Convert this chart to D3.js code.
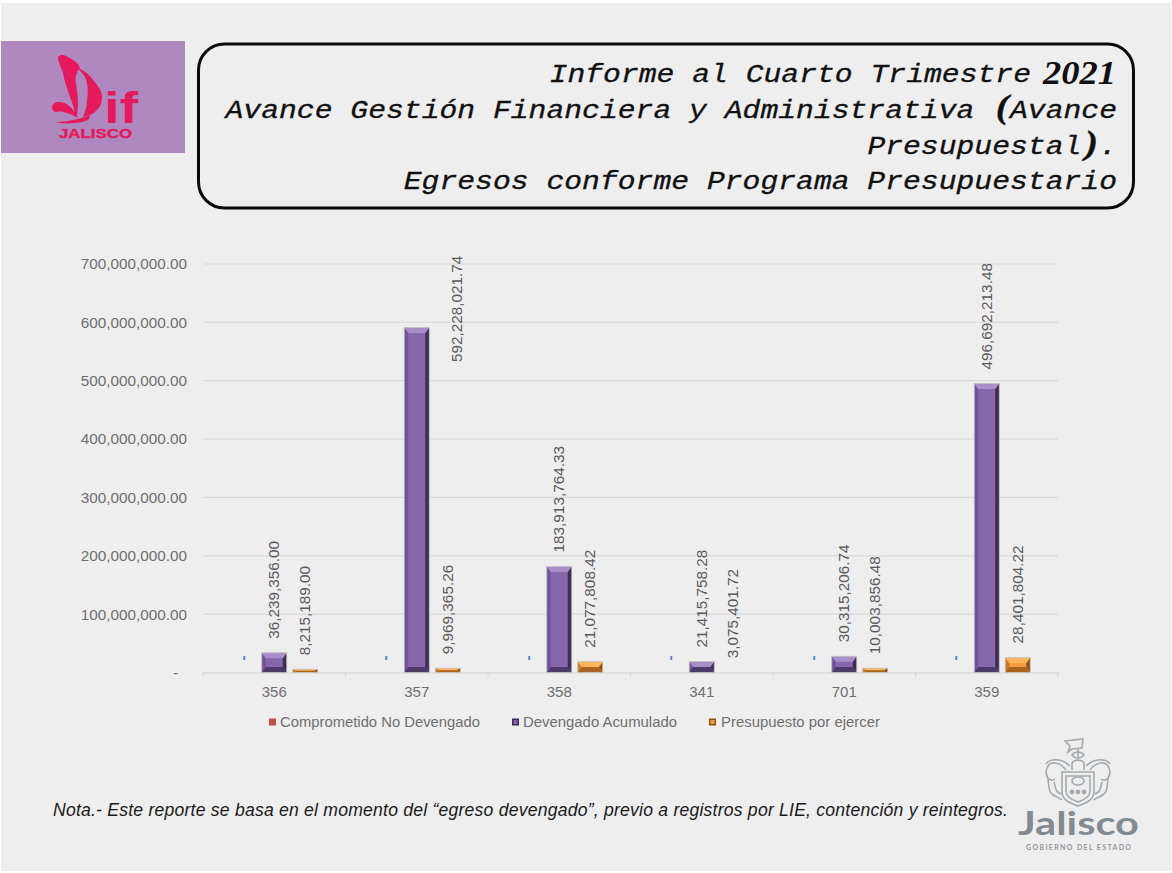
<!DOCTYPE html>
<html>
<head>
<meta charset="utf-8">
<script src="https://cdn.jsdelivr.net/npm/d3@7"></script>
<style>
  html, body { margin: 0; padding: 0; background: #fff; }
  svg { display: block; }
  text { font-family: "Liberation Sans", Arial, sans-serif; }
</style>
</head>
<body>
<div id="chart"></div>
<script>
const categories = ['356', '357', '358', '341', '701', '359'];
const seriesNames = ['Comprometido No Devengado', 'Devengado Acumulado', 'Presupuesto por ejercer'];
const comprometido = [0, 0, 0, 0, 0, 0];
const devengado = [36239356.00, 592228021.74, 183913764.33, 21415758.28, 30315206.74, 496692213.48];
const presupuesto = [8215189.00, 9969365.26, 21077808.42, 3075401.72, 10003856.48, 28401804.22];
const yTicks = [0, 100000000, 200000000, 300000000, 400000000, 500000000, 600000000, 700000000];
const titleLines = [
  'Informe al Cuarto Trimestre',
  'Avance Gestión Financiera y Administrativa (Avance',
  'Presupuestal).',
  'Egresos conforme Programa Presupuestario'
];
const titleYear = '2021';
const footNote = 'Nota.- Este reporte se basa en el momento del “egreso devengado”, previo a registros por LIE, contención y reintegros.';

const W = 1172, H = 873;
const BG = '#eeeeee';
const colors = {
  [seriesNames[0]]: { main: '#c0504d', top: '#d9827f', left: '#a33f3c', right: '#7a2f2d', bottom: '#8a3633' },
  [seriesNames[1]]: { main: '#8666ac', top: '#a88fc9', left: '#6f5594', right: '#3c2d55', bottom: '#4d3a6c' },
  [seriesNames[2]]: { main: '#f79a3e', top: '#fdb55e', left: '#c8762c', right: '#8c5217', bottom: '#a9641f' }
};

const svg = d3.select('#chart').append('svg').attr('width', W).attr('height', H);
svg.append('rect').attr('x', 1).attr('y', 3).attr('width', W - 2).attr('height', H - 5).attr('fill', BG);

drawHeader();
drawChart();
drawFooter();

function drawChart() {
  const x0 = d3.scaleBand().domain(categories).range([203, 1058]);
  const x1 = d3.scaleBand().domain(seriesNames).range([27.75, 114.75]).paddingInner(6 / 31);
  const y = d3.scaleLinear().domain([0, 700000000]).range([672.5, 264]);
  // the bars sit a little into the axis, so the smallest one barely shows
  const yBar = y.copy().range([674, 264.5]);
  const labelColor = '#6e6e6e';

  // gridlines
  svg.append('g').selectAll('line')
    .data(yTicks.slice(1))
    .join('line')
    .attr('x1', 203).attr('x2', 1058)
    .attr('y1', d => y(d)).attr('y2', d => y(d))
    .attr('stroke', '#d9d9d9').attr('stroke-width', 1.2);

  const yAxis = svg.append('g')
    .attr('transform', 'translate(187,0)')
    .call(d3.axisLeft(y).tickValues(yTicks).tickSize(0).tickPadding(0)
      .tickFormat(d => d === 0 ? '-' : d3.format(',.2f')(d)));
  yAxis.select('.domain').remove();
  yAxis.selectAll('text')
    .attr('font-size', 15.3).attr('fill', labelColor)
    .style('font-family', '"Liberation Sans", sans-serif')
    .attr('dx', d => d === 0 ? -9 : 0);

  const xAxis = svg.append('g')
    .attr('transform', `translate(0,${y(0)})`)
    .call(d3.axisBottom(x0).tickSize(0).tickPadding(14));
  xAxis.select('.domain').attr('stroke', '#d0d0d0').attr('stroke-width', 1.2);
  xAxis.selectAll('text')
    .attr('font-size', 15).attr('fill', labelColor)
    .style('font-family', '"Liberation Sans", sans-serif');

  // separators between categories on the axis
  svg.append('g').selectAll('line')
    .data(categories.map(c => x0(c)).concat([1058]))
    .join('line')
    .attr('x1', d => d).attr('x2', d => d)
    .attr('y1', y(0)).attr('y2', y(0) + 4)
    .attr('stroke', '#d0d0d0');

  const rows = [comprometido, devengado, presupuesto];
  seriesNames.forEach((name, si) => {
    const c = colors[name];
    const g = svg.append('g');
    categories.forEach((cat, i) => {
      const v = rows[si][i];
      const left = x0(cat) + x1(name), bw = x1.bandwidth();
      const cx = left + bw / 2;
      const top = yBar(v), h = y(0) - top;

      if (h > 1) drawBar(g, left, top, bw, h, c);

      // value label, rotated; the tallest one would leave the plot so it moves beside its bar
      let lx = cx + 5, ly = top - 14;
      if (v > 550000000) { lx = cx + 45; ly = top + 34.5; }
      if (v === 0) { lx = cx + 4.5; ly = y(0) - 12; }
      g.append('text')
        .attr('transform', `translate(${lx},${ly}) rotate(-90)`)
        .attr('font-size', 15.3)
        .attr('fill', v === 0 ? '#4f81bd' : '#595959')
        .attr('font-weight', v === 0 ? 'bold' : 'normal')
        .text(v === 0 ? '-' : d3.format(',.2f')(v));
    });
  });

  // legend
  const legendX = [269, 512, 709];
  const legendW = [200, 154, 159];
  const legend = svg.append('g').selectAll('g')
    .data(seriesNames)
    .join('g')
    .attr('transform', (d, i) => `translate(${legendX[i]},722)`);
  legend.append('rect')
    .attr('x', 0).attr('y', -3.5).attr('width', 7).attr('height', 7)
    .attr('fill', d => d === seriesNames[0] ? colors[d].main : colors[d].right);
  legend.filter(d => d !== seriesNames[0]).append('rect')
    .attr('x', 1.5).attr('y', -2).attr('width', 4).attr('height', 4)
    .attr('fill', d => colors[d].main);
  legend.append('text')
    .attr('x', (d, i) => i === 2 ? 12 : 11).attr('y', 5)
    .attr('font-size', 15.3).attr('fill', labelColor)
    .attr('textLength', (d, i) => legendW[i]).attr('lengthAdjust', 'spacingAndGlyphs')
    .text(d => d);
}

// bevelled bar: flat face plus four edge trapezoids
function drawBar(g, x, top, w, h, c) {
  const b = Math.min(5.5, h / 2);
  const side = Math.min(4, w / 2);
  const r = x + w, bot = top + h;
  g.append('rect').attr('x', x).attr('y', top).attr('width', w).attr('height', h).attr('fill', c.main);
  const poly = (pts, fill) => g.append('path').attr('d', d3.line()(pts) + 'Z').attr('fill', fill);
  poly([[x, top], [x + side, top + b], [x + side, bot - b], [x, bot]], c.left);
  poly([[r, top], [r - side, top + b], [r - side, bot - b], [r, bot]], c.right);
  poly([[x, top], [r, top], [r - side, top + b], [x + side, top + b]], c.top);
  poly([[x, bot], [r, bot], [r - side, bot - b], [x + side, bot - b]], c.bottom);
  g.append('rect').attr('x', x).attr('y', top).attr('width', w).attr('height', h)
    .attr('fill', 'none').attr('stroke', '#c9c9c9').attr('stroke-width', 0.8);
}

function drawHeader() {
  // DIF logo panel
  svg.append('rect').attr('x', 1).attr('y', 41).attr('width', 184).attr('height', 112).attr('fill', '#ae88bf');
  const pink = '#e5195b';
  const logo = svg.append('g').attr('fill', pink);
  logo.append('path').attr('d', 'M58 57 C60 54 65 55 68 57 C74 60 78 63 80 68 C76 72 75 78 76 83 C77 90 78 97 78 103 C78 108 77 113 77 116 L75 115 C74 108 72 102 70 97 C67 88 64 80 63 73 C61 67 58 62 58 57Z');
  logo.append('path').attr('d', 'M78 68 C85 71 90 75 93 80 C98 86 102 91 102 97 C102 103 100 107 97 110 C93 114 88 116 83 117 C85 112 87 106 87 100 C88 94 88 88 87 83 C86 78 84 75 82 73 C80 71 79 70 78 68Z');
  logo.append('path').attr('d', 'M52 107 C53 103 56 102 58 102 C62 102 66 103 68 105 C72 108 74 111 75 113 L78 118 C73 115 68 113 63 112 C60 111 57 112 55 112 C53 111 52 109 52 107Z');
  logo.append('path').attr('d', 'M55 122 C62 122 68 121 73 120 C79 119 85 117 90 115 C90 117 89 119 88 120 C83 122 78 123 73 123 C66 124 60 123 55 122Z');
  logo.append('text').attr('x', 104).attr('y', 122.5).attr('font-size', 44).attr('font-weight', 'bold')
    .attr('textLength', 34).attr('lengthAdjust', 'spacingAndGlyphs').text('if');
  logo.append('text').attr('x', 59).attr('y', 138).attr('font-size', 13).attr('font-weight', 'bold')
    .attr('stroke', pink).attr('stroke-width', 0.4)
    .attr('textLength', 73).attr('lengthAdjust', 'spacingAndGlyphs').text('JALISCO');

  // title frame
  svg.append('rect').attr('x', 198.5).attr('y', 44).attr('width', 935).attr('height', 164)
    .attr('rx', 26).attr('fill', BG).attr('stroke', '#0a0a0a').attr('stroke-width', 3);

  // typewriter face stretched sideways, one fixed slot per character
  const adv = 17.83, stretch = adv / 15, rightEdge = 1117, titleFont = 25;
  const baselines = [82, 118, 154, 189];
  const lineEnds = [1031, rightEdge, rightEdge, rightEdge];
  const isBracket = d => d === '(' || d === ')';
  titleLines.forEach((line, i) => {
    const start = lineEnds[i] - line.length * adv;
    const chars = Array.from(line);
    const t = svg.append('text')
      .attr('transform', `translate(${start},${baselines[i]}) scale(${stretch},1)`)
      .attr('x', chars.map((ch, k) => k * 15 + (isBracket(ch) ? 3 : 0)).join(' '))
      .attr('font-size', titleFont).attr('font-style', 'italic').attr('fill', '#111')
      .attr('stroke', '#111').attr('stroke-width', 0.3)
      .style('font-family', '"Liberation Mono", monospace');
    t.selectAll('tspan').data(chars).join('tspan')
      .attr('font-size', d => isBracket(d) ? 33 : null)
      .attr('font-weight', d => isBracket(d) ? 'bold' : null)
      .style('font-family', d => isBracket(d) ? '"Liberation Serif", serif' : null)
      .text(d => d);
  });
  svg.append('text')
    .attr('x', 1043).attr('y', 84)
    .attr('font-size', 33).attr('font-style', 'italic').attr('font-weight', 'bold').attr('fill', '#111')
    .style('font-family', '"Liberation Serif", serif')
    .attr('textLength', 73).attr('lengthAdjust', 'spacingAndGlyphs')
    .text(titleYear);
}

function drawFooter() {
  svg.append('text')
    .attr('x', 53).attr('y', 816)
    .attr('font-size', 17.6).attr('font-style', 'italic').attr('fill', '#1a1a1a')
    .attr('textLength', 955).attr('lengthAdjust', 'spacing')
    .text(footNote);

  // Jalisco crest, simplified outline
  const gray = '#a4aaae';
  const crest = svg.append('g').attr('fill', 'none').attr('stroke', gray).attr('stroke-width', 1.6);
  crest.append('path').attr('d', 'M1065 741 L1083 739 L1082 748 L1072 749 L1068 752 L1070 746Z');
  crest.append('path').attr('d', 'M1078 749 L1078 760 M1072 755 C1075 751 1081 751 1084 755 C1081 759 1075 759 1072 755Z');
  crest.append('path').attr('d', 'M1072 770 L1072 764 C1072 759 1084 759 1084 764 L1084 770');
  crest.append('path').attr('d', 'M1062 772 L1094 772 L1094 792 C1094 800 1086 803 1078 806 C1070 803 1062 800 1062 792Z');
  crest.append('path').attr('d', 'M1066 776 L1090 776 L1090 791 C1090 797 1084 800 1078 802 C1072 800 1066 797 1066 791Z');
  crest.append('ellipse').attr('cx', 1078).attr('cy', 781).attr('rx', 6).attr('ry', 4);
  crest.append('path').attr('d', 'M1066 770 C1060 762 1050 760 1047 768 C1044 776 1050 783 1055 779 M1070 766 C1062 758 1050 758 1046 764 M1047 775 C1050 784 1047 790 1052 794 C1056 797 1060 798 1062 800 M1054 782 C1056 790 1056 792 1061 794');
  crest.append('path').attr('d', 'M1090 770 C1096 762 1106 760 1109 768 C1112 776 1106 783 1101 779 M1086 766 C1094 758 1106 758 1110 764 M1109 775 C1106 784 1109 790 1104 794 C1100 797 1096 798 1094 800 M1102 782 C1100 790 1100 792 1095 794');
  svg.append('g').attr('fill', gray).selectAll('circle')
    .data([1072, 1078, 1084])
    .join('circle').attr('cx', d => d).attr('cy', 792).attr('r', 2.4);

  svg.append('text')
    .attr('x', 1018).attr('y', 835)
    .attr('font-size', 33).attr('font-weight', 'bold').attr('fill', '#838b91')
    .style('font-family', 'Lato, sans-serif')
    .attr('textLength', 121).attr('lengthAdjust', 'spacingAndGlyphs')
    .text('Jalisco');
  svg.append('text')
    .attr('x', 1026).attr('y', 850)
    .attr('font-size', 7).attr('font-weight', 'bold').attr('fill', '#8f979c')
    .style('font-family', 'Lato, sans-serif')
    .attr('textLength', 105).attr('lengthAdjust', 'spacing')
    .text('GOBIERNO DEL ESTADO');
}
</script>
</body>
</html>
